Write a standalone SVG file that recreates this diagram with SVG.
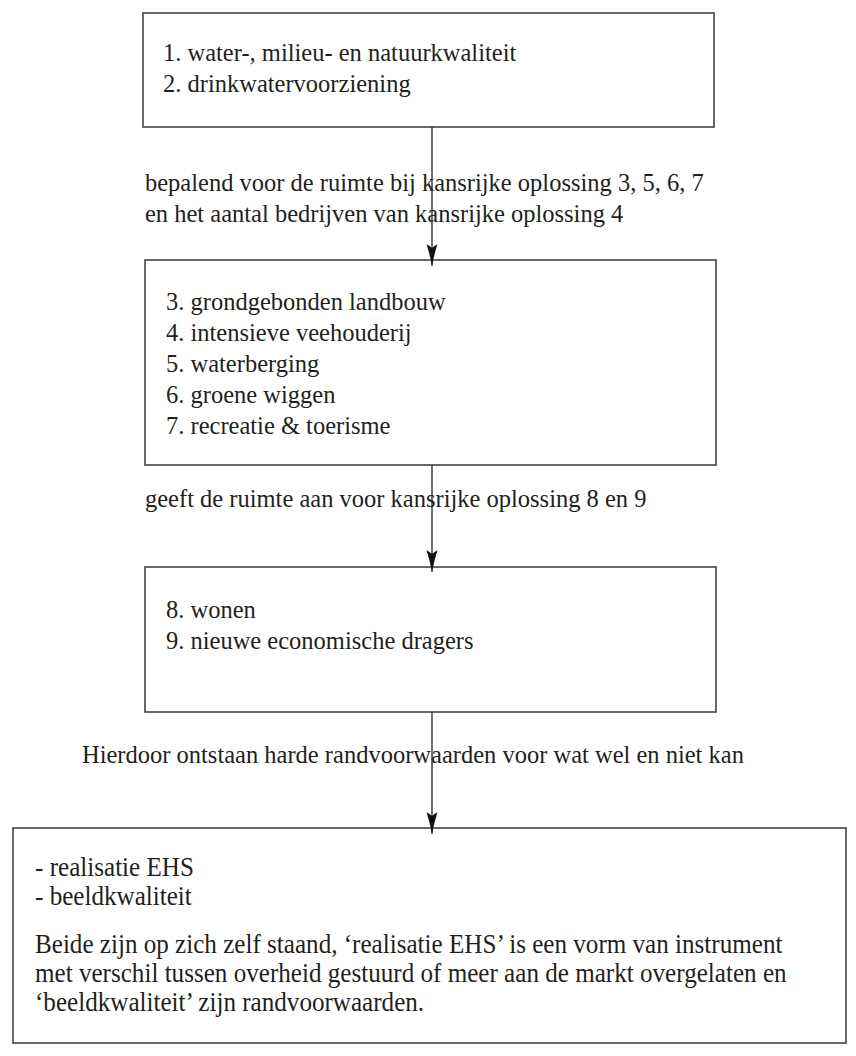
<svg xmlns="http://www.w3.org/2000/svg" width="856" height="1056" viewBox="0 0 856 1056">
<style>
.box{fill:#fff;stroke:#444;stroke-width:1.6}
.t{font-family:"Liberation Serif","Times New Roman",serif;font-size:24.5px;fill:#231f20}
.t4{font-family:"Liberation Serif","Times New Roman",serif;font-size:27px;fill:#231f20}
.conn{fill:none;stroke:#333;stroke-width:1.4}
</style>
<defs>
<marker id="ah" markerUnits="userSpaceOnUse" markerWidth="22" markerHeight="12" viewBox="0 0 22 12" refX="22" refY="6" orient="auto">
<path d="M0,0.5 Q11,4 22,6 Q11,8 0,11.5 L4,6 Z" fill="#111"/>
</marker>
</defs>
<g id="node1">
<rect class="box" x="143" y="13" width="571" height="114"/>
<text class="t" x="163" y="61">1. water-, milieu- en natuurkwaliteit</text>
<text class="t" x="163" y="92">2. drinkwatervoorziening</text>
</g>
<g id="node2">
<rect class="box" x="145" y="260" width="571" height="205"/>
<text class="t" x="166" y="310">3. grondgebonden landbouw</text>
<text class="t" x="166" y="341">4. intensieve veehouderij</text>
<text class="t" x="166" y="372">5. waterberging</text>
<text class="t" x="166" y="403">6. groene wiggen</text>
<text class="t" x="166" y="434">7. recreatie &amp; toerisme</text>
</g>
<g id="node3">
<rect class="box" x="145" y="567" width="571" height="145"/>
<text class="t" x="166" y="618">8. wonen</text>
<text class="t" x="166" y="649">9. nieuwe economische dragers</text>
</g>
<g id="node4">
<rect class="box" x="13" y="828" width="833" height="215"/>
<g transform="translate(35,0) scale(0.93,1)">
<text class="t4" x="0" y="876">- realisatie EHS</text>
<text class="t4" x="0" y="905">- beeldkwaliteit</text>
<text class="t4" x="0" y="953">Beide zijn op zich zelf staand, ‘realisatie EHS’ is een vorm van instrument</text>
<text class="t4" x="0" y="982">met verschil tussen overheid gestuurd of meer aan de markt overgelaten en</text>
<text class="t4" x="0" y="1011">‘beeldkwaliteit’ zijn randvoorwaarden.</text>
</g>
</g>
<g id="connectors">
<path class="conn" d="M432,127 V266" marker-end="url(#ah)"/>
<path class="conn" d="M432,465 V572" marker-end="url(#ah)"/>
<path class="conn" d="M432,712 V834" marker-end="url(#ah)"/>
</g>
<g id="labels">
<text class="t" x="145" y="191">bepalend voor de ruimte bij kansrijke oplossing 3, 5, 6, 7</text>
<text class="t" x="145" y="222">en het aantal bedrijven van kansrijke oplossing 4</text>
<text class="t" x="145" y="507">geeft de ruimte aan voor kansrijke oplossing 8 en 9</text>
<text class="t" x="82" y="763">Hierdoor ontstaan harde randvoorwaarden voor wat wel en niet kan</text>
</g>
</svg>
